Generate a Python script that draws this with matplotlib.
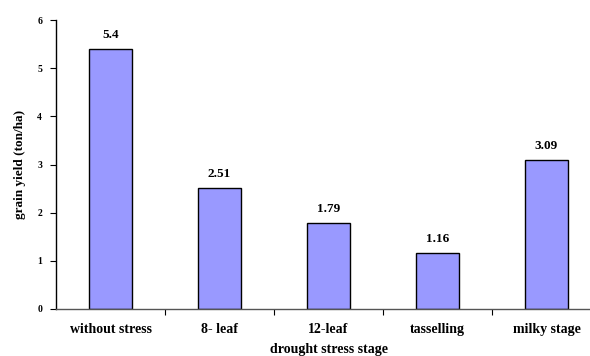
import matplotlib.pyplot as plt

stages = ['without stress', '8- leaf', '12-leaf', 'tasselling', 'milky stage']
grain_yield = [5.4, 2.51, 1.79, 1.16, 3.09]
value_labels = ['5.4', '2.51', '1.79', '1.16', '3.09']
y_ticks = [0, 1, 2, 3, 4, 5, 6]

plt.rcParams['font.family'] = ['Liberation Serif', 'DejaVu Serif']
plt.rcParams['font.weight'] = 'bold'

fig = plt.figure(figsize=(5.9, 3.56), dpi=100)
ax = fig.add_axes([56 / 590, 47 / 356, 545 / 590, 289 / 356])

x = list(range(len(stages)))
ax.bar(x, grain_yield, width=0.4, color='#9999FF', edgecolor='black', linewidth=1.0, zorder=2)

for xi, v, t in zip(x, grain_yield, value_labels):
    ax.text(xi, v + 0.16, t, ha='center', va='bottom', fontsize=9.5, fontweight='bold')

ax.set_xlim(-0.5, 4.5)
ax.set_ylim(0, 6)
ax.set_yticks(y_ticks)
ax.set_yticklabels([str(t) for t in y_ticks], fontsize=7, fontweight='bold')

# category labels sit between the boundary ticks
ax.set_xticks([i + 0.5 for i in range(len(stages) - 1)])
ax.set_xticklabels([])
ax.set_xticks(x, minor=True)
ax.set_xticklabels(stages, minor=True, fontsize=10, fontweight='bold')
ax.tick_params(axis='x', which='minor', length=0, pad=10)
ax.tick_params(axis='x', which='major', length=4, direction='out')
ax.tick_params(axis='y', length=4, direction='out', pad=6)

for s in ['top', 'right']:
    ax.spines[s].set_visible(False)
ax.spines['left'].set_linewidth(1.0)
ax.spines['bottom'].set_color('#555555')
ax.spines['bottom'].set_linewidth(1.0)

ax.set_xlabel('drought stress stage', fontsize=10, fontweight='bold', labelpad=5)
ax.set_ylabel('grain yield (ton/ha)', fontsize=9.5, fontweight='bold', labelpad=8)

fig.savefig('out.png', dpi=100)
